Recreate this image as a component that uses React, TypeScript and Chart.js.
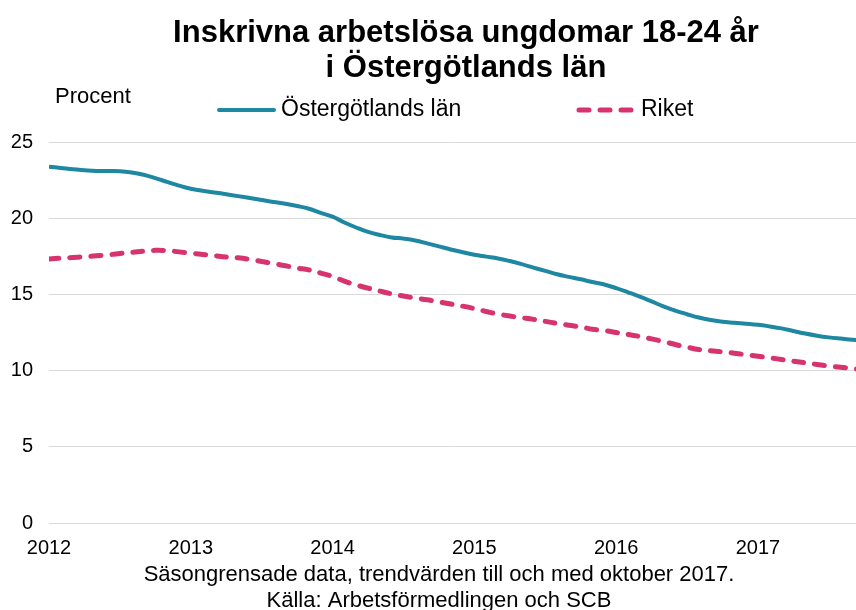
import React, { useEffect, useRef } from "react";
import { Chart, registerables } from "chart.js";

Chart.register(...registerables);

const TITLE_LINES = ["Inskrivna arbetslösa ungdomar 18-24 år", "i Östergötlands län"];
const Y_LABEL = "Procent";
const SERIES_NAMES = ["Östergötlands län", "Riket"];
const FOOTER_LINES = [
  "Säsongrensade data, trendvärden till och med oktober 2017.",
  "Källa: Arbetsförmedlingen och SCB",
];
const YEAR_LABELS = ["2012", "2013", "2014", "2015", "2016", "2017"];

// Monthly values, Jan 2012 – Oct 2017
const ostergotland = [
  23.38, 23.3, 23.21, 23.15, 23.1, 23.09, 23.08, 23.0, 22.85, 22.63, 22.38, 22.14,
  21.93, 21.8, 21.69, 21.57, 21.45, 21.32, 21.19, 21.06, 20.95, 20.8, 20.62, 20.35,
  20.1, 19.72, 19.39, 19.1, 18.9, 18.74, 18.66, 18.54, 18.35, 18.15, 17.95, 17.77,
  17.6, 17.48, 17.36, 17.19, 16.99, 16.76, 16.54, 16.32, 16.15, 15.99, 15.81, 15.65,
  15.41, 15.14, 14.86, 14.54, 14.22, 13.94, 13.7, 13.48, 13.32, 13.2, 13.14, 13.08,
  13.01, 12.9, 12.77, 12.6, 12.43, 12.29, 12.18, 12.1, 12.03, 11.97,
];
const riket = [
  17.33, 17.38, 17.42, 17.47, 17.53, 17.6, 17.68, 17.76, 17.83, 17.89, 17.87, 17.79,
  17.71, 17.62, 17.54, 17.46, 17.4, 17.3, 17.16, 17.02, 16.88, 16.73, 16.61, 16.4,
  16.18, 15.87, 15.62, 15.41, 15.22, 15.04, 14.89, 14.76, 14.65, 14.51, 14.37, 14.23,
  14.07, 13.88, 13.71, 13.58, 13.47, 13.36, 13.23, 13.1, 12.97, 12.87, 12.71, 12.63,
  12.5, 12.37, 12.24, 12.08, 11.91, 11.71, 11.54, 11.38, 11.3, 11.23, 11.14, 11.04,
  10.94, 10.84, 10.73, 10.62, 10.51, 10.4, 10.3, 10.22, 10.13, 10.03,
];

const TEAL = "#1E87A2";
const PINK = "#D6336F";
const FONT = '"Liberation Sans", Arial, sans-serif';
const PINK_DASH = [10, 11];

const textPlugin = {
  id: "customTexts",
  afterDraw(chart: any) {
    const ctx = chart.ctx as CanvasRenderingContext2D;
    ctx.save();
    ctx.fillStyle = "#000";
    ctx.textBaseline = "alphabetic";

    // Title
    ctx.textAlign = "center";
    ctx.font = `bold 31px ${FONT}`;
    ctx.fillText(TITLE_LINES[0], 466, 42);
    ctx.fillText(TITLE_LINES[1], 466, 77);

    // Y unit label
    ctx.textAlign = "left";
    ctx.font = `22px ${FONT}`;
    ctx.fillText(Y_LABEL, 55, 103);

    // Legend
    ctx.lineWidth = 4;
    ctx.strokeStyle = TEAL;
    ctx.lineCap = "round";
    ctx.beginPath();
    ctx.moveTo(219, 110);
    ctx.lineTo(274, 110);
    ctx.stroke();
    ctx.font = `23px ${FONT}`;
    ctx.textBaseline = "middle";
    ctx.fillText(SERIES_NAMES[0], 281, 110);

    ctx.lineWidth = 5;
    ctx.strokeStyle = PINK;
    ctx.setLineDash(PINK_DASH);
    ctx.beginPath();
    ctx.moveTo(579, 110);
    ctx.lineTo(632, 110);
    ctx.stroke();
    ctx.setLineDash([]);
    ctx.fillText(SERIES_NAMES[1], 641, 110);

    // Footer
    ctx.textAlign = "center";
    ctx.textBaseline = "alphabetic";
    ctx.font = `22px ${FONT}`;
    ctx.fillText(FOOTER_LINES[0], 439, 581);
    ctx.fillText(FOOTER_LINES[1], 439, 607);
    ctx.restore();
  },
};

export default function App() {
  const canvasRef = useRef<HTMLCanvasElement | null>(null);

  useEffect(() => {
    if (!canvasRef.current) return;
    const chart = new Chart(canvasRef.current, {
      type: "line",
      data: {
        datasets: [
          {
            label: SERIES_NAMES[0],
            data: ostergotland.map((y, i) => ({ x: i, y })),
            borderColor: TEAL,
            backgroundColor: TEAL,
            borderWidth: 4,
            pointRadius: 0,
            tension: 0.4,
            fill: false,
          },
          {
            label: SERIES_NAMES[1],
            data: riket.map((y, i) => ({ x: i, y })),
            borderColor: PINK,
            backgroundColor: PINK,
            borderWidth: 5,
            borderDash: PINK_DASH,
            borderCapStyle: "round",
            pointRadius: 0,
            tension: 0.4,
            fill: false,
          },
        ],
      },
      options: {
        responsive: false,
        animation: false,
        layout: { padding: { top: 142, left: 0, right: 0, bottom: 0 } },
        plugins: {
          legend: { display: false },
          title: { display: false },
          tooltip: { enabled: false },
        },
        scales: {
          x: {
            type: "linear",
            min: 0,
            max: 68.3,
            grid: { display: false, drawTicks: false },
            border: { display: false },
            ticks: {
              stepSize: 12,
              includeBounds: false,
              autoSkip: false,
              maxRotation: 0,
              padding: 13,
              color: "#000",
              font: { family: FONT, size: 20 },
              callback: (v: any) => (Number(v) % 12 === 0 ? YEAR_LABELS[Number(v) / 12] : ""),
            },
            afterFit: (s: any) => {
              s.height = 87;
            },
          },
          y: {
            min: 0,
            max: 25,
            grid: { color: "#D9D9D9", lineWidth: 1, drawTicks: false },
            border: { display: false },
            ticks: {
              stepSize: 5,
              padding: 16,
              color: "#000",
              font: { family: FONT, size: 20 },
            },
            afterFit: (s: any) => {
              s.width = 49;
            },
          },
        },
      },
      plugins: [textPlugin],
    });
    return () => chart.destroy();
  }, []);

  return (
    <div style={{ position: "absolute", left: 0, top: 0, width: 856, height: 610, background: "#fff" }}>
      <canvas ref={canvasRef} width={856} height={610} />
    </div>
  );
}
